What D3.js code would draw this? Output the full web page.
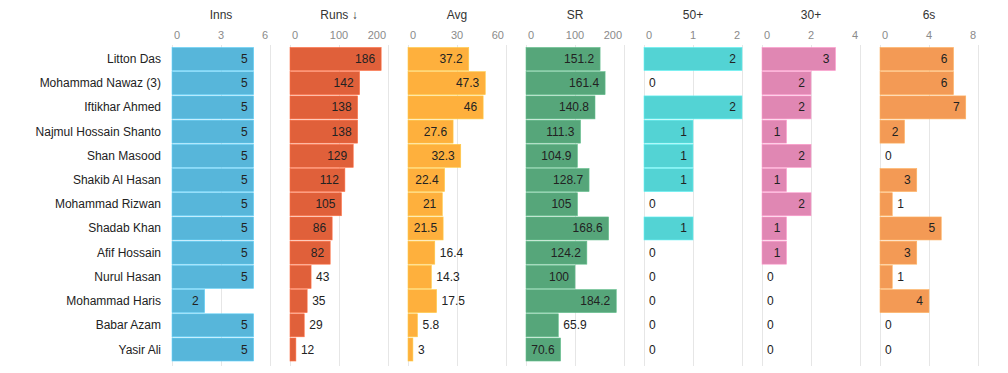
<!DOCTYPE html>
<html>
<head>
<meta charset="utf-8">
<script src="https://cdn.jsdelivr.net/npm/d3@7"></script>
<style>
  body { margin: 0; background: #fff; }
  svg { font-family: "Liberation Sans", Arial, sans-serif; }
</style>
</head>
<body>
<script>
// player stats table
const players = ["Litton Das", "Mohammad Nawaz (3)", "Iftikhar Ahmed", "Najmul Hossain Shanto",
  "Shan Masood", "Shakib Al Hasan", "Mohammad Rizwan", "Shadab Khan", "Afif Hossain",
  "Nurul Hasan", "Mohammad Haris", "Babar Azam", "Yasir Ali"]
const inns = [5, 5, 5, 5, 5, 5, 5, 5, 5, 5, 2, 5, 5]
const runs = [186, 142, 138, 138, 129, 112, 105, 86, 82, 43, 35, 29, 12]
const avg = [37.2, 47.3, 46, 27.6, 32.3, 22.4, 21, 21.5, 16.4, 14.3, 17.5, 5.8, 3]
const sr = [151.2, 161.4, 140.8, 111.3, 104.9, 128.7, 105, 168.6, 124.2, 100, 184.2, 65.9, 70.6]
const fifties = [2, 0, 2, 1, 1, 1, 0, 1, 0, 0, 0, 0, 0]
const thirties = [3, 2, 2, 1, 2, 1, 2, 1, 1, 0, 0, 0, 0]
const sixes = [6, 6, 7, 2, 0, 3, 1, 5, 3, 1, 4, 0, 0]

const titles = ["Inns", "Runs \u2193", "Avg", "SR", "50+", "30+", "6s"]
const maxes = [6, 200, 60, 200, 2, 4, 8]
const tickVals = [[0, 3, 6], [0, 100, 200], [0, 30, 60], [0, 100, 200], [0, 1, 2], [0, 2, 4], [0, 4, 8]]
const colors = ["#57b6da", "#e0603a", "#feb03d", "#56a67a", "#53d3d4", "#e087b3", "#f39a55"]

const columns = [inns, runs, avg, sr, fifties, thirties, sixes]

const width = 1008, height = 373
const firstX = 172, panelW = 98, panelStep = 118

const svg = d3.select("body").append("svg")
    .attr("width", width)
    .attr("height", height)

const yScale = d3.scaleBand()
    .domain(players)
    .range([47, 361.5])
    .paddingInner(0.05)
    .paddingOuter(0.02)

// row labels
svg.selectAll(".rowlabel").data(players)
    .enter()
    .append("text")
    .attr("x", 161)
    .attr("y", d => yScale(d) + yScale.bandwidth() / 2 + 4)
    .attr("text-anchor", "end")
    .attr("font-size", "12px")
    .attr("fill", "#222")
    .text(d => d)

columns.forEach((vals, i) => {
    const x0 = firstX + panelStep * i
    const xScale = d3.scaleLinear()
        .domain([0, maxes[i]])
        .range([x0, x0 + panelW])

    const g = svg.append("g")

    // grid lines
    g.selectAll(".grid").data(tickVals[i])
        .enter()
        .append("line")
        .attr("x1", d => xScale(d) + 0.5)
        .attr("x2", d => xScale(d) + 0.5)
        .attr("y1", 45)
        .attr("y2", 366)
        .attr("stroke", "#e6e6e6")
        .attr("stroke-width", 1)

    // tick labels
    g.selectAll(".tick").data(tickVals[i])
        .enter()
        .append("text")
        .attr("x", (d, j) => xScale(d) + (j == 0 ? 2 : j == 2 ? -2 : 0))
        .attr("y", 39)
        .attr("text-anchor", (d, j) => j == 0 ? "start" : j == 2 ? "end" : "middle")
        .attr("font-size", "11px")
        .attr("fill", "#8a8a8a")
        .text(d => d)

    // title
    g.append("text")
        .attr("x", x0 + panelW / 2)
        .attr("y", 19)
        .attr("text-anchor", "middle")
        .attr("font-size", "12px")
        .attr("fill", "#333")
        .text(titles[i])

    const rows = vals.map((v, k) => ({player: players[k], value: v}))

    // bars
    g.selectAll(".bar").data(rows.filter(d => d.value > 0))
        .enter()
        .append("rect")
        .attr("x", x0)
        .attr("y", d => yScale(d.player))
        .attr("width", d => xScale(d.value) - x0)
        .attr("height", yScale.bandwidth())
        .attr("fill", colors[i])
        .attr("stroke", d3.color(colors[i]).brighter(0.4))
        .attr("stroke-width", 0.6)

    // value labels, inside the bar if it fits
    g.selectAll(".val").data(rows)
        .enter()
        .append("text")
        .attr("y", d => yScale(d.player) + yScale.bandwidth() / 2 + 4)
        .attr("font-size", "12px")
        .attr("fill", "#222")
        .text(d => d.value)
        .each(function(d) {
            const tw = this.getComputedTextLength()
            const bw = xScale(d.value) - x0
            if (tw + 10 < bw) {
                d3.select(this).attr("x", xScale(d.value) - 6).attr("text-anchor", "end")
            } else {
                d3.select(this).attr("x", xScale(d.value) + 5).attr("text-anchor", "start")
            }
        })
})
</script>
</body>
</html>
